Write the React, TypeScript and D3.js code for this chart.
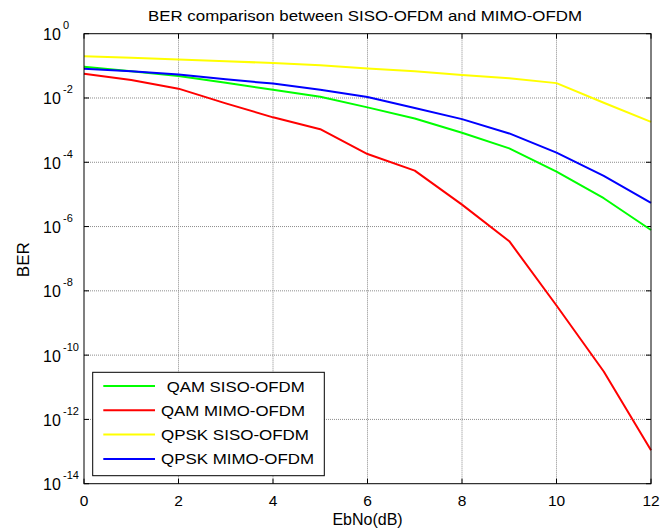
import React from 'react';
import * as d3 from 'd3';

// EbNo in dB
const ebno = [0, 1, 2, 3, 4, 5, 6, 7, 8, 9, 10, 11, 12];

// BER values
const qamSiso = [0.093, 0.068, 0.048, 0.03, 0.018, 0.011, 0.0051, 0.0023, 8.3e-4, 2.7e-4, 5.1e-5, 7.6e-6, 7.8e-7];
const qamMimo = [0.057, 0.036, 0.0195, 0.0068, 0.0025, 0.00107, 1.8e-4, 5.5e-5, 4.8e-6, 3.5e-7, 3.5e-9, 3.1e-11, 1.1e-13];
const qpskSiso = [0.2, 0.178, 0.158, 0.138, 0.123, 0.105, 0.083, 0.068, 0.052, 0.041, 0.029, 0.0071, 0.0018];
const qpskMimo = [0.081, 0.068, 0.054, 0.038, 0.028, 0.018, 0.0107, 0.0049, 0.0022, 7.9e-4, 2.0e-4, 3.8e-5, 5.5e-6];

const seriesNames = [' QAM SISO-OFDM', 'QAM MIMO-OFDM', 'QPSK SISO-OFDM', 'QPSK MIMO-OFDM'];
const seriesColors = ['#00ff00', '#ff0000', '#ffff00', '#0000ff'];
const seriesValues = [qamSiso, qamMimo, qpskSiso, qpskMimo];

const xTicks = [0, 2, 4, 6, 8, 10, 12];
const yExponents = [0, -2, -4, -6, -8, -10, -12, -14];

const titleText = 'BER comparison between SISO-OFDM and MIMO-OFDM';
const xLabel = 'EbNo(dB)';
const yLabel = 'BER';

const W = 660;
const H = 532;
const left = 84;
const right = 651;
const top = 33.7;
const bottom = 483.7;
const font = '"Liberation Sans", Arial, Helvetica, sans-serif';

// measured text widths in the picture (it is a bit stretched sideways)
const legendWidths = [138, 144, 148, 153];

export default function App() {
  const x = d3.scaleLinear().domain([0, 12]).range([left, right]);
  const y = d3.scaleLog().domain([1e-14, 1]).range([bottom, top]);

  const line = d3
    .line<number>()
    .x((d, i) => x(ebno[i]))
    .y(d => y(d));

  const tickLen = 5;

  return (
    <svg
      width={W}
      height={H}
      style={{ position: 'absolute', left: 0, top: 0, background: '#fff' }}
      fontFamily={font}
    >
      <rect x={0} y={0} width={W} height={H} fill="#fff" />

      {/* grid */}
      {xTicks.slice(1, -1).map(t => (
        <line
          key={'gx' + t}
          x1={x(t)}
          x2={x(t)}
          y1={top}
          y2={bottom}
          stroke="#8c8c8c"
          strokeDasharray="1 1"
        />
      ))}
      {yExponents.slice(1, -1).map(e => (
        <line
          key={'gy' + e}
          x1={left}
          x2={right}
          y1={y(Math.pow(10, e))}
          y2={y(Math.pow(10, e))}
          stroke="#8c8c8c"
          strokeDasharray="1 1"
        />
      ))}

      {/* inner ticks */}
      {xTicks.map(t => (
        <g key={'tx' + t} stroke="#000">
          <line x1={x(t)} x2={x(t)} y1={bottom} y2={bottom - tickLen} />
          <line x1={x(t)} x2={x(t)} y1={top} y2={top + tickLen} />
        </g>
      ))}
      {yExponents.map(e => (
        <g key={'ty' + e} stroke="#000">
          <line x1={left} x2={left + tickLen} y1={y(Math.pow(10, e))} y2={y(Math.pow(10, e))} />
          <line x1={right} x2={right - tickLen} y1={y(Math.pow(10, e))} y2={y(Math.pow(10, e))} />
        </g>
      ))}

      {/* curves */}
      {seriesValues.map((vals, i) => (
        <path
          key={'s' + i}
          d={line(vals) || ''}
          fill="none"
          stroke={seriesColors[i]}
          strokeWidth={2}
          strokeLinejoin="round"
        />
      ))}

      {/* axes box */}
      <rect x={left} y={top} width={right - left} height={bottom - top} fill="none" stroke="#000" strokeWidth={1} />

      {/* x tick labels */}
      {xTicks.map(t => (
        <text key={'lx' + t} x={x(t)} y={506} fontSize={15.5} textAnchor="middle" fill="#000">
          {t}
        </text>
      ))}

      {/* y tick labels */}
      {yExponents.map(e => (
        <g key={'ly' + e}>
          <text x={43} y={y(Math.pow(10, e)) + 6.5} fontSize={16} fill="#000">
            10
          </text>
          <text x={63} y={y(Math.pow(10, e)) - 4.5} fontSize={11} fill="#000">
            {e}
          </text>
        </g>
      ))}

      {/* labels */}
      <text x={148} y={21} fontSize={15.5} fill="#000" textLength={434} lengthAdjust="spacingAndGlyphs">
        {titleText}
      </text>
      <text x={(left + right) / 2} y={525} fontSize={16} textAnchor="middle" fill="#000">
        {xLabel}
      </text>
      <text
        transform={`translate(28.5,${(top + bottom) / 2 + 1}) rotate(-90)`}
        fontSize={17}
        textAnchor="middle"
        fill="#000"
      >
        {yLabel}
      </text>

      {/* legend */}
      <g>
        <rect x={92.7} y={372.3} width={231.6} height={103.4} fill="#fff" stroke="#000" strokeWidth={1} />
        {seriesNames.map((name, i) => {
          const ly = 386 + i * 24.3;
          const lead = name.startsWith(' ') ? 5.7 : 0;
          return (
            <g key={'lg' + i}>
              <line x1={103.3} x2={155} y1={ly} y2={ly} stroke={seriesColors[i]} strokeWidth={2} />
              <text
                x={161 + lead}
                y={ly + 5.5}
                fontSize={15.5}
                fill="#000"
                textLength={legendWidths[i]}
                lengthAdjust="spacingAndGlyphs"
              >
                {name.trim()}
              </text>
            </g>
          );
        })}
      </g>
    </svg>
  );
}
